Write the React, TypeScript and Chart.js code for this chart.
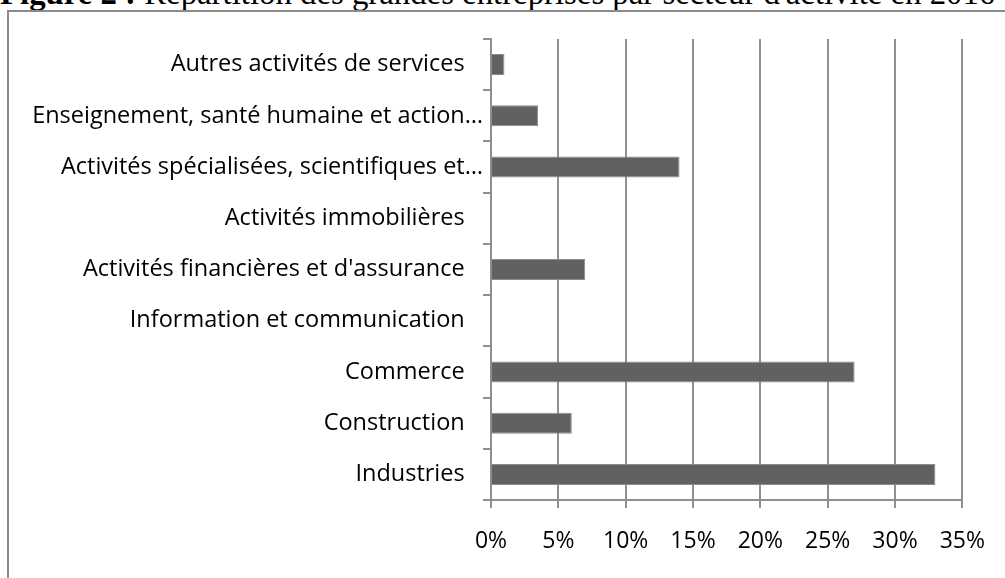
import React, { useEffect, useRef } from "react";
import { Chart, registerables } from "chart.js";

Chart.register(...registerables);

const titleBold = "Figure 2 :";
const titleRest = " Répartition des grandes entreprises par secteur d'activité en 2016";

const categories: string[] = [
  "Autres activités de services",
  "Enseignement, santé humaine et action…",
  "Activités spécialisées, scientifiques et…",
  "Activités immobilières",
  "Activités financières et d'assurance",
  "Information et communication",
  "Commerce",
  "Construction",
  "Industries",
];

const shares: number[] = [1, 3.5, 14, 0, 7, 0, 27, 6, 33];

const axisMin = 0;
const axisMax = 35;
const axisStep = 5;

const GRID = "#8f8f8f";

export default function App() {
  const ref = useRef<HTMLCanvasElement | null>(null);

  useEffect(() => {
    if (!ref.current) return;
    const chart = new Chart(ref.current, {
      type: "bar",
      data: {
        labels: categories,
        datasets: [
          {
            data: shares,
            backgroundColor: "#616161",
            borderColor: "#8d8d8d",
            borderWidth: 1,
            barPercentage: 0.41,
            categoryPercentage: 1,
          },
        ],
      },
      options: {
        indexAxis: "y",
        animation: false,
        responsive: false,
        maintainAspectRatio: false,
        layout: { padding: { top: 39, right: 38, bottom: 0, left: 0 } },
        plugins: {
          legend: { display: false },
          tooltip: { enabled: false },
          title: { display: false },
        },
        scales: {
          x: {
            min: axisMin,
            max: axisMax,
            ticks: {
              stepSize: axisStep,
              color: "#000",
              padding: 20,
              font: { family: "'Open Sans'", size: 23 },
              callback: (v: any) => v + "%",
            },
            grid: {
              color: GRID,
              lineWidth: 2,
              tickLength: 8,
              drawTicks: true,
            },
            border: { display: true, color: GRID, width: 2 },
            afterFit: (s: any) => {
              s.height = 78;
            },
          },
          y: {
            ticks: {
              color: "#000",
              padding: 0,
              font: { family: "'Open Sans'", size: 23.5 },
              autoSkip: false,
              callback: function (this: any, v: any) {
                const l = this.getLabelForValue(v) as string;
                return l.endsWith("…") ? l : l + "   ";
              },
            },
            grid: {
              display: true,
              drawOnChartArea: false,
              drawTicks: true,
              tickLength: 8,
              color: GRID,
              lineWidth: 2,
              offset: true,
            },
            border: { display: true, color: GRID, width: 2 },
            afterFit: (s: any) => {
              s.width = 491;
            },
          },
        },
      },
    });
    return () => chart.destroy();
  }, []);

  return (
    <div
      style={{
        position: "absolute",
        left: 0,
        top: 0,
        width: 1005,
        height: 578,
        overflow: "hidden",
        background: "#fff",
      }}
    >
      <div
        style={{
          position: "absolute",
          left: 0,
          top: -23,
          whiteSpace: "nowrap",
          fontFamily: "'Liberation Serif', 'Times New Roman', serif",
          fontSize: 32.8,
          lineHeight: "33px",
          color: "#000",
        }}
      >
        <b>{titleBold}</b>
        {titleRest}
      </div>
      <div
        style={{
          position: "absolute",
          left: 7,
          top: 10,
          width: 1100,
          height: 700,
          borderLeft: "2px solid #8a8a8a",
          borderTop: "2px solid #8a8a8a",
        }}
      />
      <canvas
        ref={ref}
        width={1005}
        height={578}
        style={{ position: "absolute", left: 0, top: 0, width: 1005, height: 578 }}
      />
    </div>
  );
}
